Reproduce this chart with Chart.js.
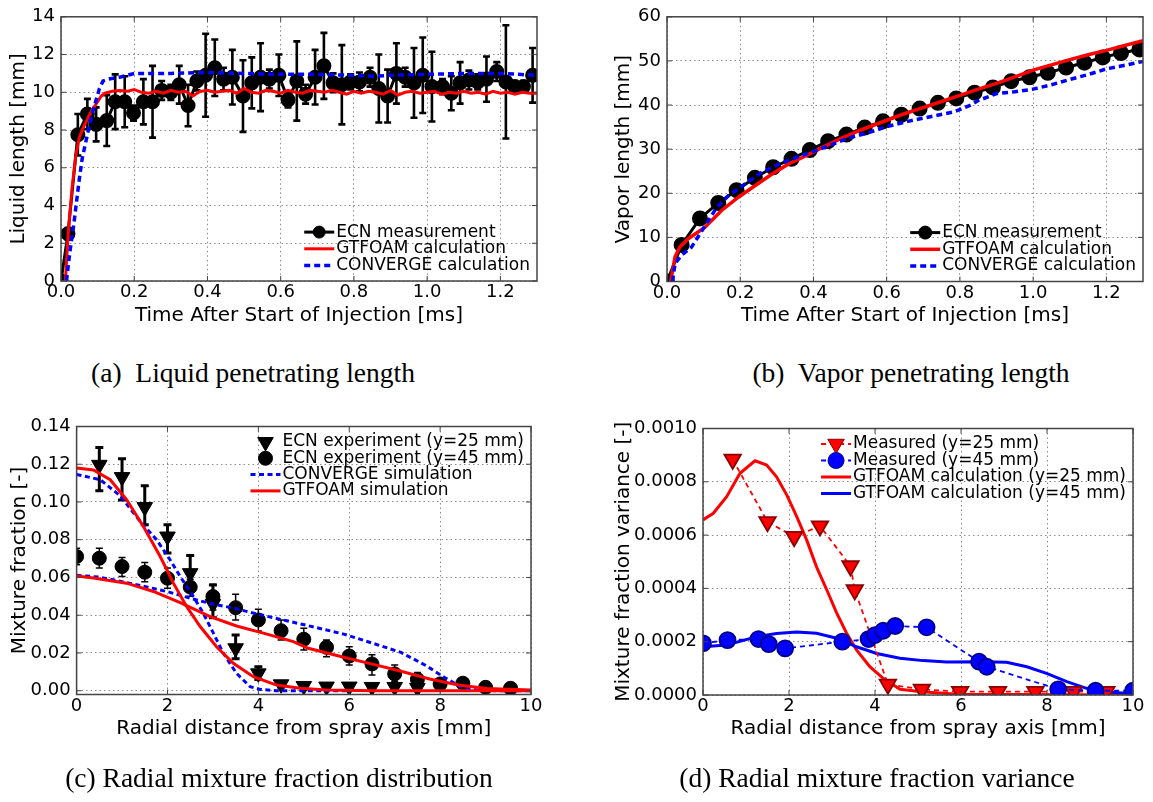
<!DOCTYPE html>
<html>
<head>
<meta charset="utf-8">
<script src="https://cdn.jsdelivr.net/npm/chart.js@4.4.1/dist/chart.umd.min.js"></script>
<style>
  body { margin: 0; background: #fff; width: 1153px; height: 802px; position: relative; overflow: hidden; }
  canvas { position: absolute; }
  .cap { position: absolute; font-family: "Liberation Serif", "Times New Roman", serif; font-size: 27.5px;
         white-space: pre; transform: translate(-50%, -50%); line-height: 1; color: #000; }
</style>
</head>
<body>
<canvas id="chartA" width="580" height="350" style="left:0;top:0"></canvas>
<canvas id="chartB" width="573" height="350" style="left:580px;top:0"></canvas>
<canvas id="chartC" width="580" height="370" style="left:0;top:400px"></canvas>
<canvas id="chartD" width="573" height="370" style="left:580px;top:400px"></canvas>
<div class="cap" style="left:253px;top:373px">(a)  Liquid penetrating length</div>
<div class="cap" style="left:911px;top:373px">(b)  Vapor penetrating length</div>
<div class="cap" style="left:279px;top:778px">(c) Radial mixture fraction distribution</div>
<div class="cap" style="left:877px;top:778px">(d) Radial mixture fraction variance</div>
<script>
// (a) liquid length
const aEcnT = [0, 0.019, 0.046, 0.072, 0.096, 0.125, 0.148, 0.174, 0.198, 0.225, 0.25, 0.275, 0.30, 0.323, 0.347, 0.371, 0.395, 0.42, 0.444, 0.468, 0.497, 0.521, 0.545, 0.569, 0.595, 0.62, 0.644, 0.668, 0.694, 0.718, 0.743, 0.767, 0.791, 0.815, 0.844, 0.868, 0.892, 0.916, 0.94, 0.964, 0.988, 1.013, 1.042, 1.066, 1.09, 1.114, 1.138, 1.162, 1.19, 1.215, 1.239, 1.263, 1.288];
const aEcnV = [0, 2.5, 7.75, 8.85, 8.3, 8.5, 9.5, 9.5, 8.9, 9.5, 9.5, 10.1, 10.0, 10.4, 9.3, 10.6, 10.9, 11.3, 10.7, 10.8, 9.8, 10.5, 10.8, 10.7, 10.9, 9.6, 10.6, 9.9, 10.8, 11.4, 10.5, 10.4, 10.55, 10.55, 10.8, 10.2, 9.8, 11.0, 10.8, 10.5, 10.9, 10.3, 10.3, 9.95, 10.5, 10.65, 10.55, 10.7, 11.1, 10.55, 10.3, 10.3, 10.9];
const aEcnErr = [0, 0.3, 1.1, 0.8, 0.9, 1.35, 1.45, 1.35, 0.4, 1.2, 1.9, 0.5, 0.4, 1.0, 1.1, 0.5, 2.2, 1.5, 0.6, 1.45, 1.9, 1.35, 1.8, 0.5, 1.1, 0.4, 2.1, 0.5, 1.45, 1.75, 0.5, 2.1, 0.4, 0.5, 0.5, 1.8, 1.4, 1.6, 0.5, 1.85, 2.0, 1.85, 0.4, 0.9, 1.1, 0.5, 0.4, 1.2, 0.5, 3.0, 0.3, 0.3, 1.45];
const aGtT = [0.012, 0.02, 0.03, 0.04, 0.05, 0.06, 0.07, 0.08, 0.09, 0.10, 0.11, 0.12, 0.14, 0.16, 0.18, 0.20, 0.22, 0.24, 0.26, 0.28, 0.30, 0.32, 0.34, 0.36, 0.38, 0.40, 0.42, 0.44, 0.46, 0.48, 0.50, 0.52, 0.54, 0.56, 0.58, 0.60, 0.62, 0.64, 0.66, 0.68, 0.70, 0.72, 0.74, 0.76, 0.78, 0.80, 0.82, 0.84, 0.86, 0.88, 0.90, 0.92, 0.94, 0.96, 0.98, 1.00, 1.02, 1.04, 1.06, 1.08, 1.10, 1.12, 1.14, 1.16, 1.18, 1.20, 1.22, 1.24, 1.26, 1.28, 1.30];
const aGtV = [0, 2.6, 4.9, 6.6, 7.6, 8.1, 8.5, 8.9, 9.2, 9.5, 9.8, 9.95, 10.05, 10.1, 10.05, 10.15, 10.0, 9.95, 10.05, 9.95, 10.1, 10.0, 10.05, 9.8, 10.05, 10.1, 10.0, 10.05, 10.1, 9.95, 10.2, 10.0, 9.95, 10.1, 10.05, 9.95, 10.1, 10.0, 9.95, 10.1, 10.05, 10.0, 10.1, 10.0, 9.9, 10.05, 9.95, 10.05, 10.0, 9.9, 10.1, 9.85, 10.0, 10.05, 9.95, 10.0, 10.05, 9.9, 10.0, 9.95, 10.05, 9.95, 10.0, 9.9, 10.05, 9.95, 10.0, 9.9, 10.0, 9.95, 9.95];
const aCvT = [0.015, 0.024, 0.035, 0.043, 0.05, 0.058, 0.068, 0.077, 0.087, 0.096, 0.105, 0.115, 0.13, 0.16, 0.2, 0.23, 0.3, 0.4, 0.5, 0.6, 0.7, 0.8, 0.86, 0.9, 1.0, 1.1, 1.2, 1.25, 1.3];
const aCvV = [0, 1.5, 3.0, 4.3, 5.4, 6.5, 7.4, 8.2, 9.0, 9.6, 10.2, 10.6, 10.7, 10.8, 11.0, 11.0, 11.0, 11.05, 11.0, 10.95, 10.95, 10.9, 10.85, 10.9, 10.95, 11.0, 11.0, 10.95, 10.9];

// (b) vapor length
const bEcnT = [0, 0.04, 0.09, 0.14, 0.19, 0.24, 0.29, 0.34, 0.39, 0.44, 0.49, 0.54, 0.59, 0.64, 0.69, 0.74, 0.79, 0.84, 0.89, 0.94, 0.99, 1.04, 1.09, 1.14, 1.19, 1.24, 1.29];
const bEcnV = [0, 8.3, 14.3, 17.8, 20.7, 23.5, 25.9, 27.8, 29.8, 31.8, 33.3, 34.9, 36.3, 37.8, 39.2, 40.5, 41.5, 42.8, 44.0, 45.4, 46.3, 47.3, 48.5, 49.6, 50.8, 51.8, 52.6];
const bGtT = [0.01, 0.022, 0.035, 0.058, 0.104, 0.149, 0.195, 0.24, 0.286, 0.331, 0.377, 0.422, 0.477, 0.531, 0.586, 0.64, 0.695, 0.75, 0.8, 0.85, 0.9, 0.95, 1.0, 1.05, 1.1, 1.15, 1.2, 1.25, 1.3];
const bGtV = [0, 5.6, 7.8, 9.7, 12.3, 16.1, 19.1, 21.7, 24.3, 26.6, 28.4, 30.3, 32.5, 34.4, 36.1, 37.8, 39.3, 40.8, 42.2, 43.6, 44.9, 46.4, 47.9, 49.1, 50.3, 51.4, 52.4, 53.5, 54.6];
const bCvT = [0.015, 0.022, 0.04, 0.067, 0.09, 0.113, 0.136, 0.167, 0.213, 0.258, 0.313, 0.377, 0.44, 0.495, 0.549, 0.604, 0.658, 0.722, 0.786, 0.83, 0.85, 0.9, 0.95, 1.0, 1.05, 1.1, 1.15, 1.2, 1.25, 1.3];
const bCvV = [0, 4.1, 6.0, 7.8, 10.8, 13.8, 16.8, 19.4, 22.1, 24.7, 26.9, 28.8, 30.7, 32.5, 33.7, 35.2, 36.3, 37.4, 38.5, 40.0, 41.0, 42.6, 43.0, 43.6, 44.6, 45.8, 46.9, 48.2, 49.0, 49.9];

// (c) mixture fraction
const cTriX = [0.5, 1, 1.5, 2, 2.5, 3, 3.5, 4, 4.5, 5, 5.5, 6, 6.5, 7, 7.5];
const cTriV = [0.1197, 0.1132, 0.0973, 0.0817, 0.0623, 0.046, 0.0225, 0.0092, 0.0034, 0.0025, 0.0022, 0.0022, 0.002, 0.002, 0.0015];
const cTriHi = [0.1289, 0.1229, 0.1086, 0.088, 0.0716, 0.056, 0.0295, 0.0127, 0.0045, 0.003, 0.003, 0.003, 0.003, 0.003, 0.002];
const cTriLo = [0.106, 0.101, 0.088, 0.073, 0.0545, 0.0386, 0.017, 0.006, 0.002, 0.0018, 0.0015, 0.0015, 0.0013, 0.0013, 0.001];
const cCirX = [0, 0.5, 1, 1.5, 2, 2.5, 3, 3.5, 4, 4.5, 5, 5.5, 6, 6.5, 7, 7.5, 8, 8.5, 9, 9.55];
const cCirV = [0.0711, 0.0702, 0.0658, 0.0628, 0.0596, 0.0549, 0.0499, 0.044, 0.0375, 0.0318, 0.0273, 0.023, 0.0184, 0.0142, 0.0089, 0.006, 0.0036, 0.004, 0.0018, 0.0013];
const cCirHi = [0.0755, 0.0755, 0.0706, 0.068, 0.065, 0.059, 0.0564, 0.0511, 0.0432, 0.0375, 0.0331, 0.0269, 0.0233, 0.019, 0.0136, 0.0096, 0.0052, 0.005, 0.0025, 0.002];
const cCirLo = [0.0667, 0.065, 0.0605, 0.0578, 0.0543, 0.050, 0.0428, 0.0375, 0.0317, 0.0269, 0.0216, 0.018, 0.0136, 0.0083, 0.0048, 0.002, 0.002, 0.003, 0.001, 0.0008];
const cCv25X = [0, 0.52, 0.96, 1.4, 1.76, 2.06, 2.28, 2.57, 2.79, 3.01, 3.23, 3.52, 3.82, 4.04, 4.4, 6];
const cCv25V = [0.1146, 0.1118, 0.1033, 0.0897, 0.08, 0.0693, 0.0605, 0.0499, 0.041, 0.0305, 0.0198, 0.0092, 0.0021, 0.0007, 0, 0];
const cCv45X = [0, 0.5, 1.0, 1.5, 2.0, 2.5, 2.9, 3.5, 4.0, 4.6, 5.25, 5.88, 6.5, 7.14, 7.69, 8.09, 8.48, 8.8, 9.2, 10];
const cCv45V = [0.0612, 0.0602, 0.0578, 0.0552, 0.0525, 0.049, 0.0465, 0.0435, 0.0405, 0.0372, 0.0336, 0.030, 0.0253, 0.0203, 0.0133, 0.0071, 0.0018, 0.0004, 0, 0];
const cGt25X = [0, 0.37, 0.74, 1.1, 1.47, 1.84, 2.13, 2.42, 2.72, 3.08, 3.45, 3.89, 4.4, 4.92, 5.5, 6.5, 10];
const cGt25V = [0.118, 0.117, 0.1118, 0.1012, 0.087, 0.0711, 0.057, 0.0446, 0.034, 0.0233, 0.0145, 0.0074, 0.003, 0.0013, 0.0004, 0, 0];
const cGt45X = [0, 0.37, 1.1, 1.69, 2.28, 2.94, 3.52, 4.11, 4.77, 5.1, 5.88, 6.51, 7.14, 7.77, 8.4, 9.03, 10];
const cGt45V = [0.0608, 0.0597, 0.057, 0.0526, 0.0467, 0.0393, 0.0343, 0.0305, 0.026, 0.0225, 0.0177, 0.0141, 0.0103, 0.0062, 0.003, 0.0012, 0.0004];

// (d) mixture fraction variance
const dTriX = [0.69, 1.5, 2.12, 2.72, 3.43, 3.53, 4.3, 5.09, 5.98, 6.86, 7.73, 8.62, 9.38];
const dTriV = [0.000884, 0.00065, 0.000594, 0.000634, 0.000484, 0.000394, 0.00004, 0.000021, 0.0000125, 0.0000125, 0.0000125, 0.0000125, 0.0000125];
const dCirX = [0, 0.57, 1.29, 1.53, 1.91, 3.24, 3.85, 4.0, 4.19, 4.47, 5.2, 6.42, 6.6, 8.26, 9.13, 10];
const dCirV = [0.000194, 0.000206, 0.00021, 0.000191, 0.000175, 0.0002, 0.00021, 0.000225, 0.000241, 0.000259, 0.000254, 0.000125, 0.000106, 0.0000214, 0.000016, 0.000016];
const dGt25X = [0, 0.24, 0.55, 0.86, 1.21, 1.48, 1.71, 1.95, 2.18, 2.41, 2.64, 2.88, 3.11, 3.34, 3.57, 3.88, 4.19, 4.58, 5.09, 5.67, 6, 10];
const dGt25V = [0.000657, 0.000682, 0.000744, 0.000832, 0.000879, 0.000863, 0.000819, 0.00075, 0.000669, 0.000582, 0.000481, 0.000394, 0.000307, 0.000232, 0.000169, 0.000106, 0.0000625, 0.0000213, 0.0000125, 0.000006, 0.000003, 0];
const dGt45X = [0, 0.55, 1.25, 1.71, 2.18, 2.64, 3.11, 3.57, 4.04, 4.58, 5.12, 5.67, 6.44, 7.06, 7.53, 7.99, 8.46, 8.92, 9.5, 10];
const dGt45V = [0.000181, 0.000188, 0.000219, 0.000231, 0.000236, 0.000232, 0.000213, 0.000181, 0.000156, 0.000138, 0.000129, 0.000124, 0.000125, 0.000123, 0.000106, 0.0000814, 0.00005, 0.000025, 0.00001, 0.000005];

const SANS = '"DejaVu Sans", sans-serif';
const xy = (xs, ys) => xs.map((x, i) => ({ x: x, y: ys[i] }));

function drawMarker(ctx, style, x, y, r, rot) {
  ctx.beginPath();
  if (style === 'circle') {
    ctx.arc(x, y, r, 0, Math.PI * 2);
  } else {
    // triangle, rotated 180 => pointing down
    let a = (rot || 0) * Math.PI / 180;
    for (let k = 0; k < 3; k++) {
      const px = x + Math.sin(a) * r, py = y - Math.cos(a) * r;
      k ? ctx.lineTo(px, py) : ctx.moveTo(px, py);
      a += Math.PI * 2 / 3;
    }
    ctx.closePath();
  }
}

const deco = {
  id: 'deco',
  beforeDatasetDraw(chart, args) {
    const ds = chart.data.datasets[args.index];
    if (!ds.errHi) return;
    const { ctx, chartArea: a } = chart;
    const ys = chart.scales.y;
    ctx.save();
    ctx.beginPath(); ctx.rect(a.left, a.top, a.width, a.height); ctx.clip();
    ctx.strokeStyle = '#000';
    ctx.lineWidth = ds.errWidth;
    ctx.beginPath();
    args.meta.data.forEach((p, i) => {
      const y1 = ys.getPixelForValue(ds.errHi[i]), y2 = ys.getPixelForValue(ds.errLo[i]);
      const c = ds.capHalf;
      ctx.moveTo(p.x, y1); ctx.lineTo(p.x, y2);
      ctx.moveTo(p.x - c, y1); ctx.lineTo(p.x + c, y1);
      ctx.moveTo(p.x - c, y2); ctx.lineTo(p.x + c, y2);
    });
    ctx.stroke();
    ctx.restore();
  },
  afterDraw(chart, args, o) {
    const { ctx, chartArea: a, scales } = chart;
    ctx.save();
    // frame + inward ticks
    ctx.strokeStyle = '#444';
    ctx.lineWidth = 1.5;
    ctx.strokeRect(a.left, a.top, a.width, a.height);
    ctx.lineWidth = 1;
    ctx.beginPath();
    scales.x.ticks.forEach(t => {
      const px = scales.x.getPixelForValue(t.value);
      ctx.moveTo(px, a.bottom); ctx.lineTo(px, a.bottom - 5);
      ctx.moveTo(px, a.top); ctx.lineTo(px, a.top + 5);
    });
    scales.y.ticks.forEach(t => {
      const py = scales.y.getPixelForValue(t.value);
      ctx.moveTo(a.left, py); ctx.lineTo(a.left + 5, py);
      ctx.moveTo(a.right, py); ctx.lineTo(a.right - 5, py);
    });
    ctx.stroke();

    // legend
    const items = chart.data.datasets.filter(d => d.label);
    ctx.font = '17px ' + SANS;
    const tw = Math.max(...items.map(d => ctx.measureText(d.label).width));
    const textX = a.right - 7 - tw;
    const h2 = textX - 2, h1 = h2 - 30;
    const n = items.length;
    items.forEach((d, i) => {
      const y = o.anchor === 'top' ? a.top + 15.5 + i * o.rowH : a.bottom - 15.5 - (n - 1 - i) * o.rowH;
      if (d.showLine !== false) {
        ctx.save();
        ctx.strokeStyle = d.borderColor;
        ctx.lineWidth = d.borderWidth;
        ctx.setLineDash(d.borderDash || []);
        ctx.beginPath(); ctx.moveTo(h1, y); ctx.lineTo(h2, y); ctx.stroke();
        ctx.restore();
      }
      if (d.pointRadius > 0) {
        drawMarker(ctx, d.pointStyle || 'circle', (h1 + h2) / 2, y, d.pointRadius, d.pointRotation);
        ctx.fillStyle = d.pointBackgroundColor;
        ctx.fill();
        ctx.lineWidth = 1;
        ctx.strokeStyle = d.pointBorderColor;
        ctx.stroke();
      }
      ctx.fillStyle = '#000';
      ctx.textBaseline = 'middle';
      ctx.textAlign = 'left';
      ctx.fillText(d.label, textX, y);
    });
    ctx.restore();
  }
};

function axis(o) {
  return {
    type: 'linear', min: o.min, max: o.max,
    ticks: { stepSize: o.step, includeBounds: false, autoSkip: false, maxRotation: 0, color: '#000',
             padding: o.pad, font: { family: SANS, size: 18 }, callback: v => Number(v).toFixed(o.dec) },
    grid: { color: 'rgba(0,0,0,0.45)', lineWidth: 1, drawTicks: false, borderDash: [1.5, 3] },
    border: { display: false, dash: [1.5, 3] },
    title: { display: true, text: o.title, color: '#000', padding: 0, font: { family: SANS, size: 20, lineHeight: 1.2 } },
    afterFit: o.fit
  };
}

function makeChart(id, p) {
  return new Chart(document.getElementById(id), {
    type: 'line',
    data: { datasets: p.datasets },
    plugins: [deco],
    options: {
      responsive: false, animation: false, devicePixelRatio: 1, events: [],
      layout: { padding: p.pad },
      elements: { line: { tension: 0 } },
      plugins: { legend: { display: false }, tooltip: { enabled: false }, deco: { anchor: p.anchor, rowH: p.rowH } },
      scales: {
        x: axis(Object.assign({ pad: 1, fit: s => { s.height = p.xh; } }, p.x)),
        y: axis(Object.assign({ pad: 6, fit: s => { s.width = p.yw; } }, p.y))
      }
    }
  });
}

function lineSet(label, data, color, width, dash, order) {
  return { label: label, data: data, borderColor: color, borderWidth: width, borderDash: dash,
           pointRadius: 0, showLine: true, fill: false, clip: 0, order: order };
}

// (a)
makeChart('chartA', {
  pad: { left: 7, top: 14, right: 43, bottom: 22 }, yw: 54, xh: 47, anchor: 'bottom', rowH: 16.7,
  x: { min: 0, max: 1.3, step: 0.2, dec: 1, title: 'Time After Start of Injection [ms]' },
  y: { min: 0, max: 14, step: 2, dec: 0, title: 'Liquid length [mm]' },
  datasets: [
    { label: 'ECN measurement', data: xy(aEcnT, aEcnV), borderColor: '#000', borderWidth: 3,
      pointRadius: 6, pointBackgroundColor: '#000', pointBorderColor: '#000', pointStyle: 'circle',
      errHi: aEcnV.map((v, i) => v + aEcnErr[i]), errLo: aEcnV.map((v, i) => v - aEcnErr[i]),
      errWidth: 2.6, capHalf: 3.5, clip: 0, order: 3 },
    lineSet('GTFOAM calculation', xy(aGtT, aGtV), '#ff0000', 3, [], 2),
    lineSet('CONVERGE calculation', xy(aCvT, aCvV), '#0000ff', 3.5, [6, 4], 1)
  ]
});

// (b)
makeChart('chartB', {
  pad: { left: 32, top: 14.5, right: 10, bottom: 22 }, yw: 55, xh: 46.5, anchor: 'bottom', rowH: 16.7,
  x: { min: 0, max: 1.3, step: 0.2, dec: 1, title: 'Time After Start of Injection [ms]' },
  y: { min: 0, max: 60, step: 10, dec: 0, title: 'Vapor length [mm]' },
  datasets: [
    { label: 'ECN measurement', data: xy(bEcnT, bEcnV), borderColor: '#000', borderWidth: 3,
      pointRadius: 6.5, pointBackgroundColor: '#000', pointBorderColor: '#000', pointStyle: 'circle', clip: 0, order: 3 },
    lineSet('GTFOAM calculation', xy(bGtT, bGtV), '#ff0000', 3.5, [], 2),
    lineSet('CONVERGE calculation', xy(bCvT, bCvV), '#0000ff', 3.5, [6, 4], 1)
  ]
});

// (c)
makeChart('chartC', {
  pad: { left: 7.6, top: 26.5, right: 49, bottom: 29.7 }, yw: 69, xh: 45.8, anchor: 'top', rowH: 16.3,
  x: { min: 0, max: 10, step: 2, dec: 0, title: 'Radial distance from spray axis [mm]' },
  y: { min: -0.002, max: 0.14, step: 0.02, dec: 2, title: 'Mixture fraction [-]' },
  datasets: [
    { label: 'ECN experiment (y=25 mm)', data: xy(cTriX, cTriV), showLine: false, pointStyle: 'triangle', pointRotation: 180,
      pointRadius: 9, pointBackgroundColor: '#000', pointBorderColor: '#000', borderColor: '#000',
      errHi: cTriHi, errLo: cTriLo, errWidth: 3, capHalf: 4, clip: 0, order: 6 },
    { label: 'ECN experiment (y=45 mm)', data: xy(cCirX, cCirV), showLine: false, pointStyle: 'circle',
      pointRadius: 7, pointBackgroundColor: '#000', pointBorderColor: '#000', borderColor: '#000',
      errHi: cCirHi, errLo: cCirLo, errWidth: 1.5, capHalf: 3.5, clip: 0, order: 5 },
    lineSet('CONVERGE simulation', xy(cCv25X, cCv25V), '#0000ff', 3, [5, 3.5], 4),
    lineSet('', xy(cCv45X, cCv45V), '#0000ff', 3, [5, 3.5], 3),
    lineSet('GTFOAM simulation', xy(cGt25X, cGt25V), '#ff0000', 3, [], 2),
    lineSet('', xy(cGt45X, cGt45V), '#ff0000', 3, [], 1)
  ]
});

// (d)
makeChart('chartD', {
  pad: { left: 32, top: 28.5, right: 20, bottom: 29.7 }, yw: 91, xh: 45.3, anchor: 'top', rowH: 16.5,
  x: { min: 0, max: 10, step: 2, dec: 0, title: 'Radial distance from spray axis [mm]' },
  y: { min: 0, max: 0.001, step: 0.0002, dec: 4, title: 'Mixture fraction variance [-]' },
  datasets: [
    { label: 'Measured (y=25 mm)', data: xy(dTriX, dTriV), showLine: true, borderColor: '#ff0000', borderWidth: 1.8,
      borderDash: [5, 4], pointStyle: 'triangle', pointRotation: 180, pointRadius: 9.5,
      pointBackgroundColor: '#ff0000', pointBorderColor: '#8b0000', clip: 0, order: 2 },
    { label: 'Measured (y=45 mm)', data: xy(dCirX, dCirV), showLine: true, borderColor: '#0000ff', borderWidth: 1.8,
      borderDash: [5, 4], pointStyle: 'circle', pointRadius: 8,
      pointBackgroundColor: '#0000ff', pointBorderColor: '#00008b', clip: 0, order: 1 },
    lineSet('GTFOAM calculation (y=25 mm)', xy(dGt25X, dGt25V), '#ff0000', 3, [], 4),
    lineSet('GTFOAM calculation (y=45 mm)', xy(dGt45X, dGt45V), '#0000ff', 3, [], 3)
  ]
});
</script>
</body>
</html>
